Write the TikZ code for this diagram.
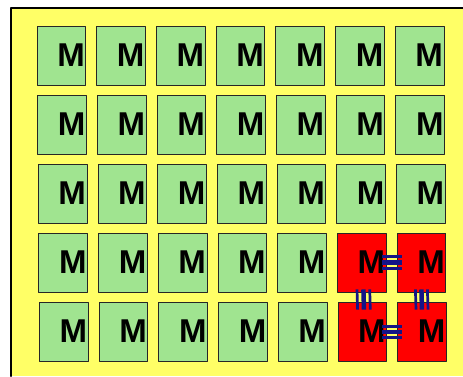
\documentclass[tikz,border=0pt]{standalone}
\usepackage{fontspec}
\newfontfamily\mfont{Liberation Sans}
\definecolor{sfondo}{RGB}{255,255,102}
\definecolor{verde}{RGB}{160,228,144}
\definecolor{rosso}{RGB}{255,0,0}
\definecolor{blu}{RGB}{20,20,135}

\begin{document}
\begin{tikzpicture}[x=1pt, y=-1pt, line cap=round, line join=round,
  modulo/.style={draw=black!85, line width=0.9pt, fill=verde,
    minimum width=48.7pt, minimum height=59pt, text width=46.7pt,
    inner xsep=1pt, inner ysep=0pt, align=right,
    font=\mfont\bfseries\fontsize{33}{33}\selectfont},
  guasto/.style={fill=rosso},
  filo/.style={draw=blu, line width=2.7pt, line cap=butt},
  filogrosso/.style={draw=blu, line width=4.5pt, line cap=butt}]
  \useasboundingbox (0,0) rectangle (463,376);

  % sfondo
  \fill[sfondo] (11,8) rectangle (463,376);
  \draw[line width=2pt] (11,376) -- (11,8) -- (463,8);

  % moduli
  \foreach \r in {1,...,5}
    \foreach \c in {1,...,7}{
      \def\tipo{}
      \ifnum\r>3 \ifnum\c>5 \def\tipo{guasto}\fi\fi
      \node[modulo,\tipo] (m-\r-\c) at ({61.4+0.6*(\r-1)+59.7*(\c-1)},{55.5+69*(\r-1)}) {M};
    }

  % collegamenti orizzontali
  \foreach \d/\s in {6.3/filo, 0/filogrosso, -6.3/filo}
    \draw[\s] ([xshift=-4.7pt,yshift=\d pt]m-4-6.east) -- ([xshift=5pt,yshift=\d pt]m-4-7.west);
  \foreach \d/\s in {5/filo, -0.5/filogrosso, -6/filo}
    \draw[\s] ([xshift=-4.7pt,yshift=\d pt]m-5-6.east) -- ([xshift=5pt,yshift=\d pt]m-5-7.west);

  % collegamenti verticali
  \foreach \d/\s in {-4.7/filo, 1.7/filogrosso, 8/filo}
    \draw[\s] ([xshift=\d pt,yshift=3pt]m-4-6.south) -- ([xshift=\d pt,yshift=-8pt]m-5-6.north);
  \foreach \d/\s in {-6/filo, 0/filogrosso, 6/filo}
    \draw[\s] ([xshift=\d pt,yshift=3pt]m-4-7.south) -- ([xshift=\d pt,yshift=-8pt]m-5-7.north);
\end{tikzpicture}
\end{document}
